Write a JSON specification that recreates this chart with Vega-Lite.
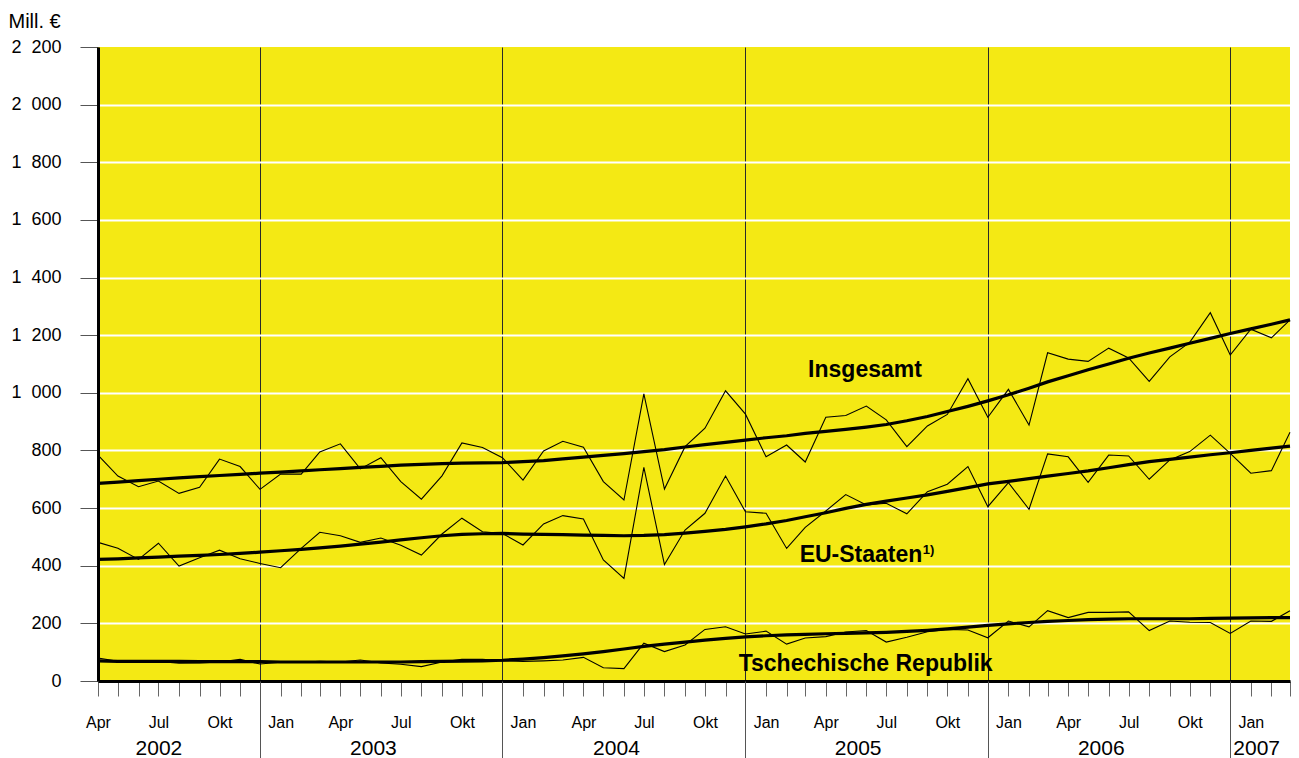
{
  "$schema": "https://vega.github.io/schema/vega-lite/v6.json",
  "width": 1192,
  "height": 634,
  "autosize": "none",
  "padding": {"left": 98, "top": 47, "right": 9, "bottom": 77},
  "background": "white",
  "config": {"font": "Liberation Sans", "view": {"fill": "#F4E914", "stroke": null}},
  "datasets": {
    "series": [
      {"date":"2002-04-01","series":"Insgesamt","raw":784,"trend":686},
      {"date":"2002-05-01","series":"Insgesamt","raw":711,"trend":690},
      {"date":"2002-06-01","series":"Insgesamt","raw":674,"trend":695},
      {"date":"2002-07-01","series":"Insgesamt","raw":694,"trend":700},
      {"date":"2002-08-01","series":"Insgesamt","raw":651,"trend":705},
      {"date":"2002-09-01","series":"Insgesamt","raw":672,"trend":709},
      {"date":"2002-10-01","series":"Insgesamt","raw":770,"trend":713},
      {"date":"2002-11-01","series":"Insgesamt","raw":744,"trend":717},
      {"date":"2002-12-01","series":"Insgesamt","raw":665,"trend":721},
      {"date":"2003-01-01","series":"Insgesamt","raw":718,"trend":725},
      {"date":"2003-02-01","series":"Insgesamt","raw":718,"trend":729},
      {"date":"2003-03-01","series":"Insgesamt","raw":795,"trend":733},
      {"date":"2003-04-01","series":"Insgesamt","raw":823,"trend":737},
      {"date":"2003-05-01","series":"Insgesamt","raw":736,"trend":741},
      {"date":"2003-06-01","series":"Insgesamt","raw":775,"trend":745},
      {"date":"2003-07-01","series":"Insgesamt","raw":692,"trend":749},
      {"date":"2003-08-01","series":"Insgesamt","raw":631,"trend":752},
      {"date":"2003-09-01","series":"Insgesamt","raw":712,"trend":754},
      {"date":"2003-10-01","series":"Insgesamt","raw":826,"trend":756},
      {"date":"2003-11-01","series":"Insgesamt","raw":810,"trend":757},
      {"date":"2003-12-01","series":"Insgesamt","raw":775,"trend":758},
      {"date":"2004-01-01","series":"Insgesamt","raw":697,"trend":761},
      {"date":"2004-02-01","series":"Insgesamt","raw":798,"trend":765},
      {"date":"2004-03-01","series":"Insgesamt","raw":832,"trend":771},
      {"date":"2004-04-01","series":"Insgesamt","raw":811,"trend":777},
      {"date":"2004-05-01","series":"Insgesamt","raw":692,"trend":783},
      {"date":"2004-06-01","series":"Insgesamt","raw":628,"trend":789},
      {"date":"2004-07-01","series":"Insgesamt","raw":996,"trend":796},
      {"date":"2004-08-01","series":"Insgesamt","raw":666,"trend":803},
      {"date":"2004-09-01","series":"Insgesamt","raw":813,"trend":812},
      {"date":"2004-10-01","series":"Insgesamt","raw":877,"trend":820},
      {"date":"2004-11-01","series":"Insgesamt","raw":1007,"trend":828},
      {"date":"2004-12-01","series":"Insgesamt","raw":926,"trend":836},
      {"date":"2005-01-01","series":"Insgesamt","raw":778,"trend":844},
      {"date":"2005-02-01","series":"Insgesamt","raw":819,"trend":851},
      {"date":"2005-03-01","series":"Insgesamt","raw":760,"trend":859},
      {"date":"2005-04-01","series":"Insgesamt","raw":915,"trend":866},
      {"date":"2005-05-01","series":"Insgesamt","raw":921,"trend":873},
      {"date":"2005-06-01","series":"Insgesamt","raw":954,"trend":881},
      {"date":"2005-07-01","series":"Insgesamt","raw":906,"trend":890},
      {"date":"2005-08-01","series":"Insgesamt","raw":813,"trend":903},
      {"date":"2005-09-01","series":"Insgesamt","raw":885,"trend":918},
      {"date":"2005-10-01","series":"Insgesamt","raw":925,"trend":935},
      {"date":"2005-11-01","series":"Insgesamt","raw":1049,"trend":953},
      {"date":"2005-12-01","series":"Insgesamt","raw":915,"trend":972},
      {"date":"2006-01-01","series":"Insgesamt","raw":1012,"trend":993},
      {"date":"2006-02-01","series":"Insgesamt","raw":888,"trend":1016},
      {"date":"2006-03-01","series":"Insgesamt","raw":1139,"trend":1038},
      {"date":"2006-04-01","series":"Insgesamt","raw":1117,"trend":1059},
      {"date":"2006-05-01","series":"Insgesamt","raw":1109,"trend":1080},
      {"date":"2006-06-01","series":"Insgesamt","raw":1155,"trend":1100},
      {"date":"2006-07-01","series":"Insgesamt","raw":1121,"trend":1120},
      {"date":"2006-08-01","series":"Insgesamt","raw":1040,"trend":1138},
      {"date":"2006-09-01","series":"Insgesamt","raw":1125,"trend":1155},
      {"date":"2006-10-01","series":"Insgesamt","raw":1175,"trend":1172},
      {"date":"2006-11-01","series":"Insgesamt","raw":1278,"trend":1189},
      {"date":"2006-12-01","series":"Insgesamt","raw":1131,"trend":1206},
      {"date":"2007-01-01","series":"Insgesamt","raw":1221,"trend":1222},
      {"date":"2007-02-01","series":"Insgesamt","raw":1191,"trend":1238},
      {"date":"2007-03-01","series":"Insgesamt","raw":1253,"trend":1253},
      {"date":"2002-04-01","series":"EU","raw":481,"trend":422},
      {"date":"2002-05-01","series":"EU","raw":461,"trend":424},
      {"date":"2002-06-01","series":"EU","raw":422,"trend":427},
      {"date":"2002-07-01","series":"EU","raw":478,"trend":430},
      {"date":"2002-08-01","series":"EU","raw":399,"trend":433},
      {"date":"2002-09-01","series":"EU","raw":428,"trend":436},
      {"date":"2002-10-01","series":"EU","raw":454,"trend":439},
      {"date":"2002-11-01","series":"EU","raw":424,"trend":443},
      {"date":"2002-12-01","series":"EU","raw":408,"trend":447},
      {"date":"2003-01-01","series":"EU","raw":393,"trend":452},
      {"date":"2003-02-01","series":"EU","raw":460,"trend":457},
      {"date":"2003-03-01","series":"EU","raw":516,"trend":462},
      {"date":"2003-04-01","series":"EU","raw":504,"trend":468},
      {"date":"2003-05-01","series":"EU","raw":481,"trend":475},
      {"date":"2003-06-01","series":"EU","raw":496,"trend":482},
      {"date":"2003-07-01","series":"EU","raw":471,"trend":490},
      {"date":"2003-08-01","series":"EU","raw":437,"trend":497},
      {"date":"2003-09-01","series":"EU","raw":510,"trend":504},
      {"date":"2003-10-01","series":"EU","raw":565,"trend":509},
      {"date":"2003-11-01","series":"EU","raw":518,"trend":511},
      {"date":"2003-12-01","series":"EU","raw":512,"trend":512},
      {"date":"2004-01-01","series":"EU","raw":472,"trend":510},
      {"date":"2004-02-01","series":"EU","raw":545,"trend":509},
      {"date":"2004-03-01","series":"EU","raw":574,"trend":508},
      {"date":"2004-04-01","series":"EU","raw":562,"trend":506},
      {"date":"2004-05-01","series":"EU","raw":420,"trend":505},
      {"date":"2004-06-01","series":"EU","raw":356,"trend":504},
      {"date":"2004-07-01","series":"EU","raw":741,"trend":505},
      {"date":"2004-08-01","series":"EU","raw":404,"trend":508},
      {"date":"2004-09-01","series":"EU","raw":524,"trend":513},
      {"date":"2004-10-01","series":"EU","raw":582,"trend":519},
      {"date":"2004-11-01","series":"EU","raw":711,"trend":526},
      {"date":"2004-12-01","series":"EU","raw":587,"trend":535},
      {"date":"2005-01-01","series":"EU","raw":582,"trend":545},
      {"date":"2005-02-01","series":"EU","raw":460,"trend":557},
      {"date":"2005-03-01","series":"EU","raw":533,"trend":570},
      {"date":"2005-04-01","series":"EU","raw":590,"trend":584},
      {"date":"2005-05-01","series":"EU","raw":647,"trend":599},
      {"date":"2005-06-01","series":"EU","raw":611,"trend":613},
      {"date":"2005-07-01","series":"EU","raw":617,"trend":624},
      {"date":"2005-08-01","series":"EU","raw":580,"trend":635},
      {"date":"2005-09-01","series":"EU","raw":657,"trend":646},
      {"date":"2005-10-01","series":"EU","raw":683,"trend":658},
      {"date":"2005-11-01","series":"EU","raw":744,"trend":671},
      {"date":"2005-12-01","series":"EU","raw":605,"trend":684},
      {"date":"2006-01-01","series":"EU","raw":688,"trend":693},
      {"date":"2006-02-01","series":"EU","raw":596,"trend":702},
      {"date":"2006-03-01","series":"EU","raw":788,"trend":711},
      {"date":"2006-04-01","series":"EU","raw":778,"trend":720},
      {"date":"2006-05-01","series":"EU","raw":689,"trend":729},
      {"date":"2006-06-01","series":"EU","raw":784,"trend":740},
      {"date":"2006-07-01","series":"EU","raw":781,"trend":751},
      {"date":"2006-08-01","series":"EU","raw":700,"trend":761},
      {"date":"2006-09-01","series":"EU","raw":767,"trend":769},
      {"date":"2006-10-01","series":"EU","raw":796,"trend":777},
      {"date":"2006-11-01","series":"EU","raw":853,"trend":785},
      {"date":"2006-12-01","series":"EU","raw":790,"trend":792},
      {"date":"2007-01-01","series":"EU","raw":721,"trend":800},
      {"date":"2007-02-01","series":"EU","raw":730,"trend":808},
      {"date":"2007-03-01","series":"EU","raw":863,"trend":815},
      {"date":"2002-04-01","series":"CZ","raw":80,"trend":70},
      {"date":"2002-05-01","series":"CZ","raw":68,"trend":68},
      {"date":"2002-06-01","series":"CZ","raw":68,"trend":68},
      {"date":"2002-07-01","series":"CZ","raw":68,"trend":68},
      {"date":"2002-08-01","series":"CZ","raw":62,"trend":68},
      {"date":"2002-09-01","series":"CZ","raw":63,"trend":67},
      {"date":"2002-10-01","series":"CZ","raw":66,"trend":67},
      {"date":"2002-11-01","series":"CZ","raw":75,"trend":67},
      {"date":"2002-12-01","series":"CZ","raw":59,"trend":67},
      {"date":"2003-01-01","series":"CZ","raw":65,"trend":66},
      {"date":"2003-02-01","series":"CZ","raw":65,"trend":66},
      {"date":"2003-03-01","series":"CZ","raw":68,"trend":66},
      {"date":"2003-04-01","series":"CZ","raw":66,"trend":66},
      {"date":"2003-05-01","series":"CZ","raw":73,"trend":66},
      {"date":"2003-06-01","series":"CZ","raw":63,"trend":66},
      {"date":"2003-07-01","series":"CZ","raw":58,"trend":66},
      {"date":"2003-08-01","series":"CZ","raw":50,"trend":67},
      {"date":"2003-09-01","series":"CZ","raw":66,"trend":68},
      {"date":"2003-10-01","series":"CZ","raw":75,"trend":69},
      {"date":"2003-11-01","series":"CZ","raw":75,"trend":70},
      {"date":"2003-12-01","series":"CZ","raw":70,"trend":72},
      {"date":"2004-01-01","series":"CZ","raw":68,"trend":76},
      {"date":"2004-02-01","series":"CZ","raw":70,"trend":81},
      {"date":"2004-03-01","series":"CZ","raw":73,"trend":87},
      {"date":"2004-04-01","series":"CZ","raw":82,"trend":94},
      {"date":"2004-05-01","series":"CZ","raw":46,"trend":102},
      {"date":"2004-06-01","series":"CZ","raw":43,"trend":111},
      {"date":"2004-07-01","series":"CZ","raw":131,"trend":120},
      {"date":"2004-08-01","series":"CZ","raw":102,"trend":128},
      {"date":"2004-09-01","series":"CZ","raw":125,"trend":135},
      {"date":"2004-10-01","series":"CZ","raw":179,"trend":142},
      {"date":"2004-11-01","series":"CZ","raw":188,"trend":148},
      {"date":"2004-12-01","series":"CZ","raw":163,"trend":153},
      {"date":"2005-01-01","series":"CZ","raw":173,"trend":157},
      {"date":"2005-02-01","series":"CZ","raw":128,"trend":160},
      {"date":"2005-03-01","series":"CZ","raw":149,"trend":162},
      {"date":"2005-04-01","series":"CZ","raw":154,"trend":164},
      {"date":"2005-05-01","series":"CZ","raw":170,"trend":165},
      {"date":"2005-06-01","series":"CZ","raw":175,"trend":167},
      {"date":"2005-07-01","series":"CZ","raw":135,"trend":169},
      {"date":"2005-08-01","series":"CZ","raw":152,"trend":172},
      {"date":"2005-09-01","series":"CZ","raw":171,"trend":176},
      {"date":"2005-10-01","series":"CZ","raw":179,"trend":181},
      {"date":"2005-11-01","series":"CZ","raw":177,"trend":187},
      {"date":"2005-12-01","series":"CZ","raw":150,"trend":193},
      {"date":"2006-01-01","series":"CZ","raw":208,"trend":198},
      {"date":"2006-02-01","series":"CZ","raw":188,"trend":203},
      {"date":"2006-03-01","series":"CZ","raw":244,"trend":207},
      {"date":"2006-04-01","series":"CZ","raw":220,"trend":210},
      {"date":"2006-05-01","series":"CZ","raw":238,"trend":213},
      {"date":"2006-06-01","series":"CZ","raw":238,"trend":215},
      {"date":"2006-07-01","series":"CZ","raw":240,"trend":216},
      {"date":"2006-08-01","series":"CZ","raw":175,"trend":216},
      {"date":"2006-09-01","series":"CZ","raw":208,"trend":216},
      {"date":"2006-10-01","series":"CZ","raw":204,"trend":216},
      {"date":"2006-11-01","series":"CZ","raw":203,"trend":217},
      {"date":"2006-12-01","series":"CZ","raw":165,"trend":218},
      {"date":"2007-01-01","series":"CZ","raw":208,"trend":219},
      {"date":"2007-02-01","series":"CZ","raw":207,"trend":220},
      {"date":"2007-03-01","series":"CZ","raw":244,"trend":220}
    ],
    "labels": [
      {"label":"Insgesamt","date":"2005-05-30","value":1056},
      {"label":"EU-Staaten","date":"2005-05-24","value":414},
      {"label":"Tschechische Republik","date":"2005-05-31","value":35}
    ],
    "sup": [
      {"label":"1)","date":"2005-08-25","value":441}
    ]
  },
  "layer": [
    {
      "data": {"name": "series"},
      "mark": {"type": "line", "color": "black", "strokeWidth": 1.1},
      "encoding": {
        "x": {
          "field": "date", "type": "temporal",
          "scale": {"type": "utc", "domain": [{"year":2002,"month":4,"date":1,"utc":true},{"year":2007,"month":3,"date":1,"utc":true}]},
          "axis": {
            "orient": "bottom", "title": null,
            "tickCount": {"interval": "month", "step": 1},
            "tickSize": 15, "tickColor": "#666", "tickWidth": 1,
            "domainColor": "black", "domainWidth": 3,
            "grid": false,
            "labelExpr": "['Jan','','','Apr','','','Jul','','','Okt','',''][utcmonth(datum.value)]",
            "labelFontSize": 16, "labelColor": "black",
            "labelPadding": 31, "labelBaseline": "alphabetic",
            "labelFlush": false, "labelOverlap": false, "labelBound": false
          }
        },
        "y": {
          "field": "raw", "type": "quantitative",
          "scale": {"domain": [0, 2200], "nice": false},
          "axis": {
            "orient": "left",
            "title": "Mill. €", "titleAngle": 0, "titleAlign": "left", "titleBaseline": "alphabetic",
            "titleX": -90, "titleY": -20, "titleFontSize": 20, "titleFontWeight": "normal", "titleColor": "black",
            "values": [0,200,400,600,800,1000,1200,1400,1600,1800,2000,2200],
            "labelExpr": "datum.value >= 1000 ? floor(datum.value/1000) + '\u2007' + format(datum.value % 1000, '03d') : format(datum.value, 'd')",
            "labelFontSize": 18, "labelColor": "black", "labelPadding": 19, "labelFlush": false,
            "tickSize": 18, "tickColor": "#555", "tickWidth": 1,
            "domainColor": "black", "domainWidth": 3,
            "grid": true, "gridColor": "white", "gridWidth": 2,
            "gridOpacity": {"condition": {"test": "datum.value == 2200", "value": 0}, "value": 1}
          }
        },
        "detail": {"field": "series"}
      }
    },
    {
      "data": {"name": "series"},
      "mark": {"type": "line", "color": "black", "strokeWidth": 3.2},
      "encoding": {
        "x": {
          "field": "date", "type": "temporal",
          "scale": {"type": "utc", "domain": [{"year":2002,"month":4,"date":1,"utc":true},{"year":2007,"month":3,"date":1,"utc":true}]},
          "axis": {
            "orient": "bottom", "title": null,
            "values": [
              {"year":2002,"month":12,"date":1,"utc":true},
              {"year":2003,"month":12,"date":1,"utc":true},
              {"year":2004,"month":12,"date":1,"utc":true},
              {"year":2005,"month":12,"date":1,"utc":true},
              {"year":2006,"month":12,"date":1,"utc":true}
            ],
            "tickSize": 77, "tickColor": "#555", "tickWidth": 1,
            "domain": false, "labels": false,
            "grid": true, "gridColor": "#2a2a2a", "gridWidth": 1
          }
        },
        "y": {"field": "trend", "type": "quantitative", "scale": {"domain": [0, 2200], "nice": false}, "axis": null},
        "detail": {"field": "series"}
      }
    },
    {
      "data": {"name": "labels"},
      "mark": {"type": "text", "color": "black", "fontWeight": "bold", "fontSize": 23, "align": "center", "baseline": "alphabetic"},
      "encoding": {
        "x": {
          "field": "date", "type": "temporal",
          "scale": {"type": "utc", "domain": [{"year":2002,"month":4,"date":1,"utc":true},{"year":2007,"month":3,"date":1,"utc":true}]},
          "axis": {
            "orient": "bottom", "title": null,
            "values": [
              {"year":2002,"month":7,"date":1,"utc":true},
              {"year":2003,"month":5,"date":20,"utc":true},
              {"year":2004,"month":5,"date":20,"utc":true},
              {"year":2005,"month":5,"date":19,"utc":true},
              {"year":2006,"month":5,"date":20,"utc":true},
              {"year":2007,"month":1,"date":9,"utc":true}
            ],
            "ticks": false, "tickSize": 0, "domain": false, "grid": false,
            "labelExpr": "utcFormat(datum.value, '%Y')",
            "labelFontSize": 21, "labelColor": "black",
            "labelPadding": 73, "labelBaseline": "alphabetic",
            "labelFlush": false, "labelOverlap": false, "labelBound": false
          }
        },
        "y": {"field": "value", "type": "quantitative", "scale": {"domain": [0, 2200], "nice": false}, "axis": null},
        "text": {"field": "label"}
      }
    },
    {
      "data": {"name": "sup"},
      "mark": {"type": "text", "color": "black", "fontWeight": "bold", "fontSize": 13, "align": "left", "baseline": "alphabetic"},
      "encoding": {
        "x": {
          "field": "date", "type": "temporal",
          "scale": {"type": "utc", "domain": [{"year":2002,"month":4,"date":1,"utc":true},{"year":2007,"month":3,"date":1,"utc":true}]},
          "axis": null
        },
        "y": {"field": "value", "type": "quantitative", "scale": {"domain": [0, 2200], "nice": false}, "axis": null},
        "text": {"field": "label"}
      }
    }
  ],
  "resolve": {"axis": {"x": "independent", "y": "independent"}}
}
